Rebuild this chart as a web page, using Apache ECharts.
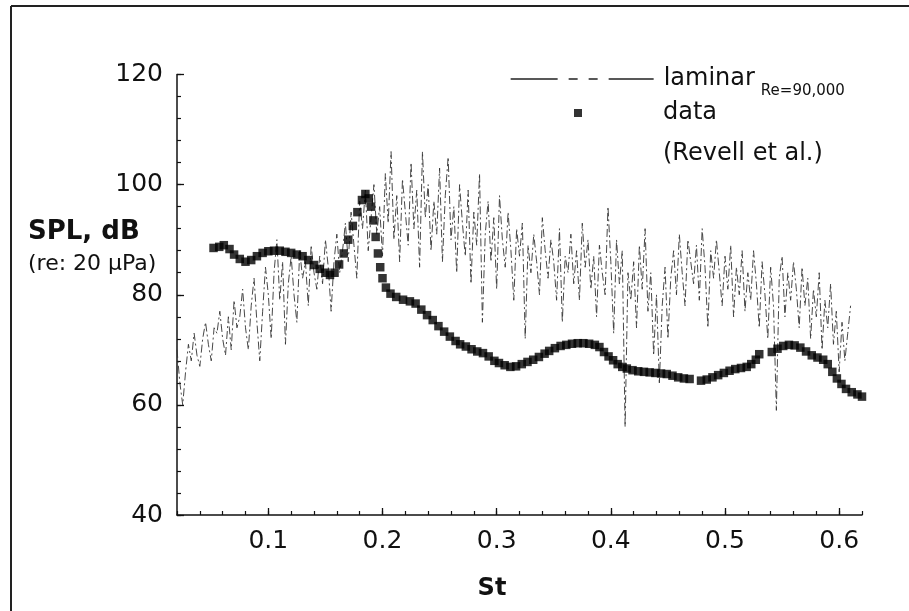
<!DOCTYPE html>
<html>
<head>
<meta charset="utf-8">
<script src="https://cdn.jsdelivr.net/npm/echarts@6/dist/echarts.min.js"></script>
<style>html,body{margin:0;padding:0;background:#fff}#c{width:909px;height:611px}</style>
</head>
<body>
<div id="c"></div>
<script>
// ---- Data ----
var xTickLabels = [0.1, 0.2, 0.3, 0.4, 0.5, 0.6];
var yTickLabels = [40, 60, 80, 100, 120];

// Measured data (Revell et al.): Strouhal number and SPL
var dataSt = [0.052,0.057,0.061,0.066,0.070,0.075,0.080,0.085,0.090,0.095,0.100,0.105,0.110,0.115,0.120,0.125,0.130,0.135,0.140,0.145,0.150,0.154,0.158,0.162,0.166,0.170,0.174,0.178,0.182,0.185,0.188,0.190,0.192,0.194,0.196,0.198,0.200,0.203,0.207,0.212,0.218,0.224,0.229,0.234,0.239,0.244,0.249,0.254,0.259,0.264,0.268,0.273,0.278,0.283,0.288,0.293,0.298,0.302,0.307,0.312,0.317,0.322,0.327,0.332,0.337,0.342,0.346,0.351,0.356,0.361,0.366,0.371,0.376,0.381,0.386,0.390,0.394,0.398,0.402,0.406,0.410,0.414,0.419,0.424,0.429,0.434,0.439,0.444,0.449,0.454,0.459,0.464,0.469,0.479,0.484,0.489,0.494,0.499,0.504,0.509,0.514,0.519,0.523,0.527,0.530,0.541,0.546,0.551,0.556,0.561,0.566,0.571,0.576,0.581,0.586,0.590,0.594,0.598,0.602,0.606,0.611,0.616,0.620];
var dataSpl = [88.5,88.7,89.0,88.3,87.3,86.5,86.0,86.3,87.0,87.6,87.9,88.0,88.0,87.8,87.6,87.3,87.0,86.3,85.4,84.7,84.0,83.6,84.0,85.5,87.5,90.0,92.5,95.0,97.2,98.3,97.5,96.0,93.5,90.5,87.5,85.0,83.0,81.3,80.2,79.6,79.1,78.8,78.4,77.3,76.3,75.4,74.3,73.3,72.4,71.6,71.0,70.6,70.1,69.7,69.4,68.8,68.0,67.6,67.2,66.9,67.0,67.4,67.8,68.2,68.7,69.3,69.8,70.3,70.7,70.9,71.1,71.2,71.2,71.1,70.9,70.5,69.6,68.8,68.1,67.4,66.9,66.6,66.3,66.1,66.0,65.9,65.8,65.7,65.6,65.3,65.0,64.8,64.7,64.4,64.6,65.0,65.4,65.8,66.2,66.5,66.7,66.9,67.4,68.2,69.2,69.6,70.2,70.7,70.9,70.8,70.4,69.7,69.0,68.6,68.2,67.4,66.0,64.8,63.8,62.9,62.3,61.9,61.5];

// Laminar simulation (Re = 90,000): spectrum sampled on a uniform St grid
var laminarStart = 0.02;
var laminarStep = 0.0025;
var laminarSpl = [
70,64,60,66,71,68,73,69,67,72,
75,71,68,74,73,77,72,69,76,70,
79,74,76,81,74,70,78,83,75,68,
77,85,80,72,84,90,79,86,71,82,
87,80,75,88,83,86,78,89,84,81,
87,82,90,85,77,86,91,84,88,93,
86,95,89,83,97,92,99,88,94,100,
91,96,87,102,93,106,90,98,86,101,
95,89,104,92,99,85,106,94,100,88,
97,91,103,86,98,105,90,96,84,100,
93,87,99,82,95,89,102,75,91,97,
86,94,81,98,90,85,95,88,79,92,
87,93,72,89,84,91,86,80,94,88,
83,90,86,79,92,75,87,84,91,82,
88,79,93,85,90,81,87,76,89,84,
80,96,86,73,90,82,88,56,84,79,
86,74,89,81,92,77,84,69,80,64,
78,85,72,83,88,80,91,84,78,90,
86,82,89,79,92,85,74,88,83,90,
84,78,87,81,89,76,85,80,88,77,
84,79,88,82,74,86,80,72,85,78,
59,83,87,76,84,79,86,81,74,85,
78,83,72,81,76,84,70,79,74,82,
71,77,66,75,68,73,78];

var laminarPairs = laminarSpl.map(function (v, i) {
  return [+(laminarStart + i * laminarStep).toFixed(4), v];
});
var dataPairs = dataSt.map(function (s, i) { return [s, dataSpl[i]]; });

var FONT = 'DejaVu Sans';
var chart = echarts.init(document.getElementById('c'), null, {renderer: 'canvas'});
chart.setOption({
  animation: false,
  backgroundColor: '#fff',
  textStyle: {fontFamily: FONT, color: '#111'},
  title: [
    {text: 'SPL, dB', left: 23, top: 214, padding: 5,
     textStyle: {fontFamily: FONT, fontWeight: 'bold', fontSize: 26, color: '#111'}},
    {text: '(re: 20 \u03bcPa)', left: 23, top: 248, padding: 5,
     textStyle: {fontFamily: FONT, fontWeight: 'normal', fontSize: 22, color: '#111'}}
  ],
  legend: [
    {
      data: [{name: 'laminar'}],
      left: 510, top: 67, orient: 'vertical', padding: 0,
      itemWidth: 143, itemHeight: 14,
      itemStyle: {color: 'rgba(0,0,0,0)', borderWidth: 0, opacity: 0},
      lineStyle: {type: [47, 11, 9, 11, 9, 11, 60], width: 1.3, color: '#222'},
      textStyle: {
        fontFamily: FONT, color: '#111',
        rich: {
          a: {fontFamily: FONT, fontSize: 24, color: '#111', lineHeight: 40, verticalAlign: 'middle', padding: [0, 0, 0, 5]},
          b: {fontFamily: FONT, fontSize: 15, color: '#111', lineHeight: 12, verticalAlign: 'bottom', padding: [0, 0, 0, 6]}
        }
      },
      formatter: function () { return '{a|laminar}{b|Re=90,000}'; }
    },
    {
      data: [{name: 'data', icon: 'rect'}],
      left: 574, top: 101, orient: 'vertical', padding: 0,
      itemWidth: 8, itemHeight: 8,
      textStyle: {fontFamily: FONT, fontSize: 24, color: '#111', padding: [3, 0, 0, 76]}
    }
  ],
  graphic: [
    {type: 'text', left: 663, top: 142, style: {text: '(Revell et al.)', fontFamily: FONT, fontSize: 24, fill: '#111'}},
    {type: 'line', shape: {x1: 11, y1: 6, x2: 909, y2: 6}, style: {stroke: '#222', lineWidth: 2}},
    {type: 'line', shape: {x1: 11, y1: 6, x2: 11, y2: 611}, style: {stroke: '#222', lineWidth: 2}}
  ],
  grid: {left: 177, right: 47, top: 74.5, bottom: 96, containLabel: false},
  xAxis: [
    {
      type: 'value', min: 0.02, max: 0.62,
      name: 'St', nameLocation: 'middle', nameGap: 62,
      nameTextStyle: {fontFamily: FONT, fontWeight: 'bold', fontSize: 24, color: '#111', padding: [0, 55, 0, 0]},
      axisLine: {show: true, lineStyle: {color: '#111', width: 1.5}},
      axisTick: {show: true, inside: true, length: 7, customValues: xTickLabels, lineStyle: {color: '#111', width: 1.3}},
      axisLabel: {show: true, margin: 14, customValues: xTickLabels, fontFamily: FONT, fontSize: 25, color: '#111',
        formatter: function (v) { return v.toFixed(1); }},
      splitLine: {show: false}
    },
    {
      type: 'value', min: 0.02, max: 0.62, interval: 0.02, position: 'bottom',
      axisLine: {show: false},
      axisTick: {show: true, inside: true, length: 4, lineStyle: {color: '#111', width: 1.2}},
      axisLabel: {show: false},
      splitLine: {show: false}
    }
  ],
  yAxis: [
    {
      type: 'value', min: 40, max: 120, interval: 20, position: 'left',
      axisLine: {show: true, lineStyle: {color: '#111', width: 1.5}},
      axisTick: {show: true, inside: true, length: 7, lineStyle: {color: '#111', width: 1.3}},
      axisLabel: {margin: 14, fontFamily: FONT, fontSize: 25, color: '#111'},
      splitLine: {show: false}
    },
    {
      type: 'value', min: 40, max: 120, interval: 4, position: 'left',
      axisLine: {show: false},
      axisTick: {show: true, inside: true, length: 4, lineStyle: {color: '#111', width: 1.2}},
      axisLabel: {show: false},
      splitLine: {show: false}
    }
  ],
  series: [
    {
      name: 'laminar', type: 'line', xAxisIndex: 0, yAxisIndex: 0, data: laminarPairs,
      symbol: 'none', showSymbol: false, smooth: false,
      lineStyle: {color: '#333', width: 0.9, type: [8, 3, 2, 3]},
      z: 2
    },
    {
      name: 'data', type: 'scatter', xAxisIndex: 0, yAxisIndex: 0, data: dataPairs,
      symbol: 'rect', symbolSize: 8.5,
      itemStyle: {color: '#000'},
      z: 3
    }
  ]
});
</script>
</body>
</html>
